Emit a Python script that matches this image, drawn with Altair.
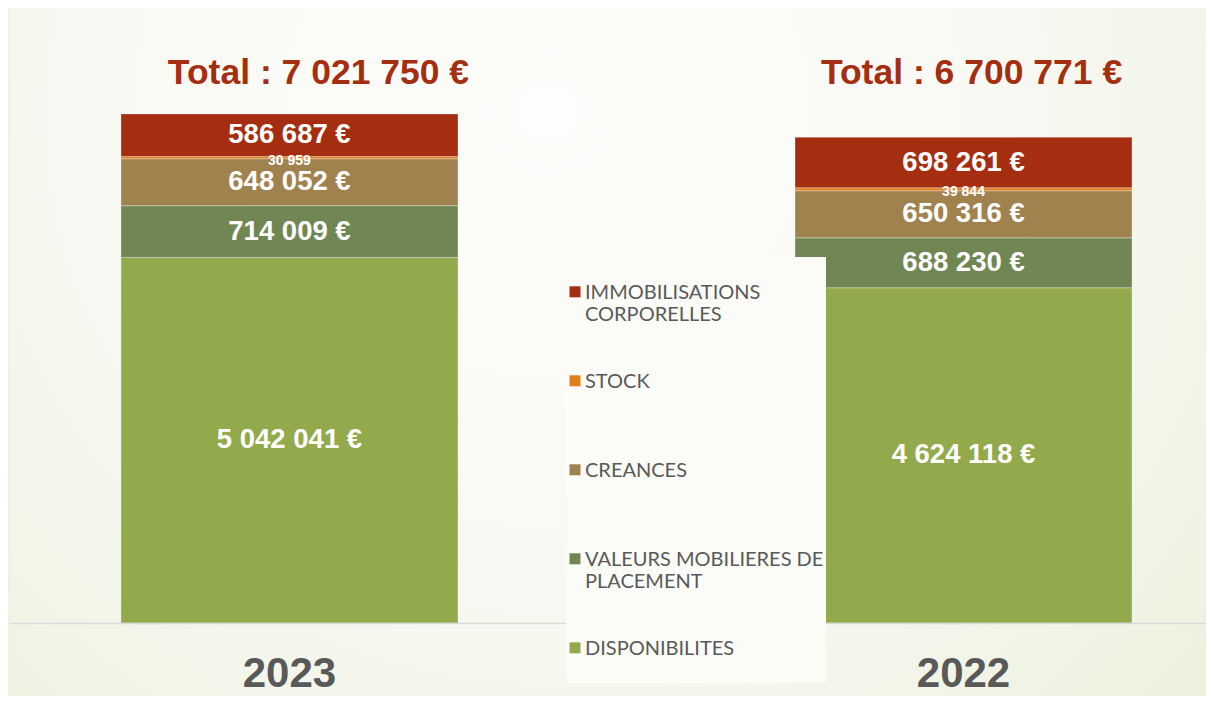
import altair as alt
import pandas as pd

years = ["2023", "2022"]
categories = ["DISPONIBILITES", "VALEURS MOBILIERES DE PLACEMENT", "CREANCES", "STOCK",
              "IMMOBILISATIONS CORPORELLES"]
values_2023 = [5042041, 714009, 648052, 30959, 586687]
values_2022 = [4624118, 688230, 650316, 39844, 698261]
totals = [7021750, 6700771]
colors = ["#93AA4C", "#718753", "#A0824F", "#E07F1C", "#A42E0F"]
legend_lines = {
    "IMMOBILISATIONS CORPORELLES": ["IMMOBILISATIONS", "CORPORELLES"],
    "STOCK": ["STOCK", ""],
    "CREANCES": ["CREANCES", ""],
    "VALEURS MOBILIERES DE PLACEMENT": ["VALEURS MOBILIERES DE", "PLACEMENT"],
    "DISPONIBILITES": ["DISPONIBILITES", ""],
}


def fr(v):
    return f"{v:,}".replace(",", " ")


rows = []
for year, vals in zip(years, [values_2023, values_2022]):
    for i, (cat, v) in enumerate(zip(categories, vals)):
        small = 1 if cat == "STOCK" else 0
        rows.append({"year": year, "cat": cat, "value": v, "idx": i, "small": small,
                     "label": fr(v) if small else fr(v) + " €"})
df = pd.DataFrame(rows)
df_tot = pd.DataFrame({"year": years, "label": [f"Total : {fr(t)} €" for t in totals]})

legend_order = list(reversed(categories))
legend_colors = list(reversed(colors))

expr = ""
for cat, lines in legend_lines.items():
    arr = "[" + ", ".join(f"'{s}'" for s in lines) + "]"
    expr += f"datum.label == '{cat}' ? {arr} : "
expr += "datum.label"

x_enc = alt.X(
    "year:N", sort=years,
    scale=alt.Scale(paddingInner=0.5, paddingOuter=0.1372, align=0.6),
    axis=alt.Axis(title=None, labelAngle=0, labelFontSize=42, labelFont="Liberation Sans",
                  labelFontWeight="bold", labelColor="#595959", labelPadding=30, ticks=False,
                  domainColor="#D9D9D9", domainWidth=1.5, zindex=1),
)
y_scale = alt.Scale(domain=[0, 8000000])

bg = alt.Chart(df_tot).mark_rect(
    fill=alt.RadialGradient(
        gradient="radial", x1=0.45, y1=0.3, r1=0.0, x2=0.45, y2=0.3, r2=0.75,
        stops=[alt.GradientStop(offset=0, color="#FDFDFB"),
               alt.GradientStop(offset=0.5, color="#F8F9F3"),
               alt.GradientStop(offset=1, color="#ECF1DD")],
    )
).encode(x=alt.value(0), x2=alt.value(1196), y=alt.value(-35), y2=alt.value(653))

bars = alt.Chart(df).mark_bar(stroke="white", strokeOpacity=0.3, strokeWidth=1).encode(
    x=x_enc,
    y=alt.Y("value:Q", stack="zero", scale=y_scale, axis=None),
    color=alt.Color(
        "cat:N",
        scale=alt.Scale(domain=legend_order, range=legend_colors),
        legend=alt.Legend(
            orient="none", legendX=556, legendY=214, title=" ", titleFontSize=10, titlePadding=4,
            fillColor="#FBFCF8", padding=2, labelFont="Lato", labelFontSize=20,
            labelColor="#595959", labelBaseline="top", labelExpr=expr,
            symbolType="M-1,0.6H1V2.6H-1Z", symbolSize=121, symbolStrokeWidth=0,
            symbolOpacity=1, symbolOffset=-3, rowPadding=37, labelLimit=400, labelOffset=0,
            zindex=2,
        ),
    ),
    order=alt.Order("idx:Q"),
)

stacked = alt.Chart(df).transform_stack(
    stack="value", groupby=["year"], sort=[alt.SortField("idx", order="ascending")], as_=["v0", "v1"]
).transform_calculate(mid="(datum.v0 + datum.v1) / 2")

big_labels = stacked.transform_filter("datum.small == 0").mark_text(
    color="white", fontSize=27.5, fontWeight="bold", font="Liberation Sans", baseline="middle"
).encode(x=alt.X("year:N", sort=years), y=alt.Y("mid:Q", scale=y_scale), text="label:N")

small_labels = stacked.transform_filter("datum.small == 1").mark_text(
    color="white", fontSize=14, fontWeight="bold", font="Liberation Sans", baseline="middle", dy=3
).encode(x=alt.X("year:N", sort=years), y=alt.Y("mid:Q", scale=y_scale), text="label:N")

tot_a = alt.Chart(df_tot).transform_filter("datum.year == '2023'").mark_text(
    color="#A42E0F", fontSize=35.5, fontWeight="bold", font="Liberation Sans", baseline="middle", dx=29
).encode(x=alt.X("year:N", sort=years), y=alt.value(30), text="label:N")
tot_b = alt.Chart(df_tot).transform_filter("datum.year == '2022'").mark_text(
    color="#A42E0F", fontSize=35.5, fontWeight="bold", font="Liberation Sans", baseline="middle", dx=8
).encode(x=alt.X("year:N", sort=years), y=alt.value(30), text="label:N")

chart = alt.layer(bg, bars, big_labels, small_labels, tot_a, tot_b).properties(
    width=1196, height=580, autosize="none",
    padding={"left": 2, "top": 35, "right": 0, "bottom": 73},
).configure(background="#EEF2E2").configure_view(strokeWidth=0)

chart.save("out.html", embed_options={"renderer": "svg", "actions": False})
